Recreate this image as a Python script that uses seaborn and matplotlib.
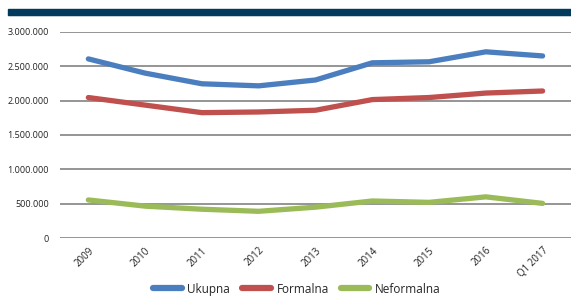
import matplotlib
matplotlib.use("Agg")
from matplotlib import pyplot as plt
from matplotlib.patches import Rectangle
from matplotlib.ticker import FuncFormatter
import seaborn as sns
import pandas as pd

years = ['2009', '2010', '2011', '2012', '2013', '2014', '2015', '2016', 'Q1 2017']
ukupna = [2607000, 2400000, 2245000, 2215000, 2300000, 2550000, 2565000, 2710000, 2650000]
formalna = [2045000, 1935000, 1825000, 1835000, 1860000, 2015000, 2045000, 2110000, 2140000]
neformalna = [555000, 465000, 420000, 390000, 450000, 540000, 520000, 600000, 505000]

series_names = ['Ukupna', 'Formalna', 'Neformalna']
colors = ['#4a7ebf', '#c0504d', '#9bbb59']

df = pd.DataFrame({'Godina': years, 'Ukupna': ukupna,
                   'Formalna': formalna, 'Neformalna': neformalna})
df = df.melt(id_vars='Godina', var_name='Serija', value_name='Broj')

sns.set_theme(style='white')
plt.rcParams['font.family'] = ['Open Sans', 'DejaVu Sans']

fig = plt.figure(figsize=(5.71, 2.98), dpi=100)
ax = fig.add_axes([0.105, 0.201, 0.895, 0.692])

sns.lineplot(data=df, x='Godina', y='Broj', hue='Serija', hue_order=series_names,
             palette=colors, linewidth=3.8, sort=False, ax=ax,
             solid_capstyle='round', solid_joinstyle='round', zorder=3)

ax.set_xlim(-0.5, len(years) - 0.5)
ax.set_ylim(0, 3000000)
ax.set_yticks(range(0, 3000001, 500000))
ax.yaxis.set_major_formatter(FuncFormatter(lambda v, p: f'{int(v):,}'.replace(',', '.')))
ax.grid(axis='y', color='#8c8c8c', linewidth=1.3)
ax.set_axisbelow(True)
for s in ax.spines.values():
    s.set_visible(False)
ax.set_xlabel('')
ax.set_ylabel('')
ax.tick_params(axis='both', length=0, colors='#222222')
ax.tick_params(axis='y', pad=8, labelsize=6.5)
ax.tick_params(axis='x', pad=5, labelsize=7)
for lbl in ax.get_xticklabels():
    lbl.set_rotation(45)
    lbl.set_ha('right')
    lbl.set_rotation_mode('anchor')

ax.get_legend().remove()
handles, labels = ax.get_legend_handles_labels()
leg = fig.legend(handles, labels, loc='center', bbox_to_anchor=(0.52, 0.03), ncol=3,
                 frameon=False, fontsize=8.5, handlelength=2.4, columnspacing=1.0,
                 handletextpad=0.5, borderaxespad=0)
for h in leg.get_lines():
    h.set_linewidth(4.5)
    h.set_solid_capstyle('round')

# dark header bar
fig.patches.append(Rectangle((8 / 571, 1 - 14.5 / 298), 1, 5 / 298,
                             transform=fig.transFigure, color='#003a5c', zorder=5))
fig.patches.append(Rectangle((8 / 571, 1 - 15.2 / 298), 1, 0.7 / 298,
                             transform=fig.transFigure, color='#a9c0cf', zorder=4))

fig.savefig('out.png', dpi=100)
